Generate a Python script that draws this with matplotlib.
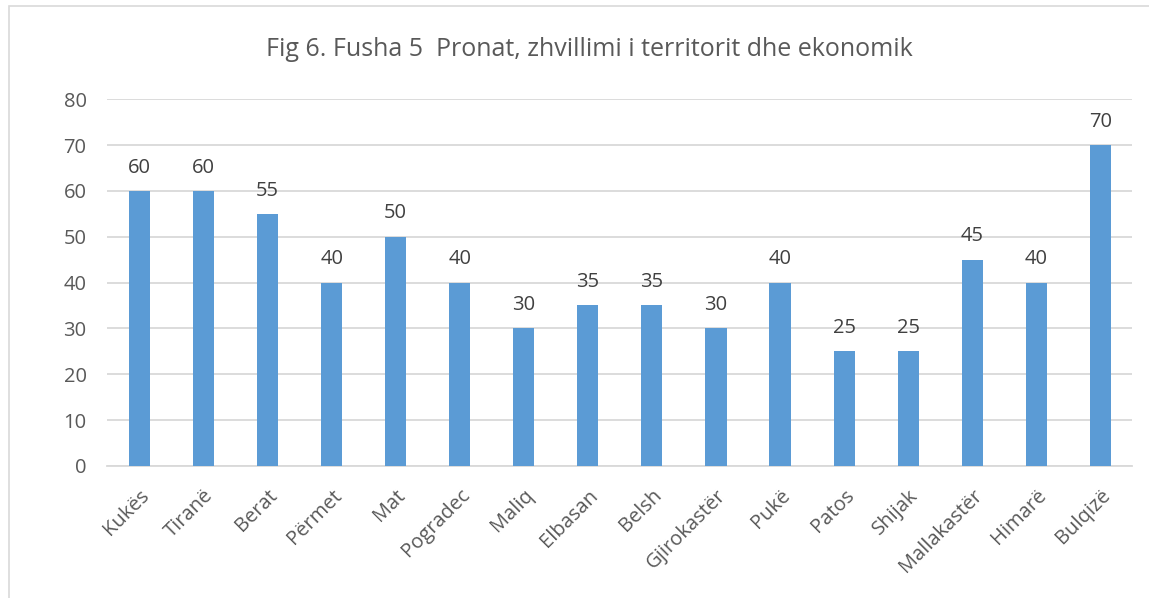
import matplotlib.pyplot as plt
import numpy as np

cities = ["Kukës", "Tiranë", "Berat", "Përmet", "Mat", "Pogradec", "Maliq", "Elbasan",
          "Belsh", "Gjirokastër", "Pukë", "Patos", "Shijak", "Mallakastër", "Himarë", "Bulqizë"]
values = [60, 60, 55, 40, 50, 40, 30, 35, 35, 30, 40, 25, 25, 45, 40, 70]
yticks = [0, 10, 20, 30, 40, 50, 60, 70, 80]

txt = "#595959"
plt.rcParams['font.family'] = ['Open Sans', 'DejaVu Sans']

fig = plt.figure(figsize=(11.49, 5.98), dpi=100)
ax = fig.add_axes([0.0935, 0.221, 0.892, 0.613])

x = np.arange(len(cities))
bars = ax.bar(x, values, width=0.33, color="#5B9BD5", zorder=3)
for xi, v in zip(x, values):
    ax.text(xi, v + 2.9, str(v), ha="center", va="bottom", fontsize=14.5, color="#404040")

ax.set_xlim(-0.5, len(cities) - 0.5)
ax.set_ylim(0, 80)
ax.set_yticks(yticks)
ax.set_yticklabels([str(t) for t in yticks], fontsize=14.5, color=txt)
ax.yaxis.grid(True, color="#D9D9D9", linewidth=1.3, zorder=0)
ax.tick_params(axis="y", length=0, pad=15)
ax.tick_params(axis="x", length=0, pad=14)
ax.set_xticks(x)
ax.set_xticklabels(cities, rotation=45, ha="right", rotation_mode="anchor",
                   fontsize=14.5, color=txt)
for s in ["top", "right", "left"]:
    ax.spines[s].set_visible(False)
ax.spines["bottom"].set_color("#D9D9D9")
ax.spines["bottom"].set_linewidth(1.3)

fig.text(0.513, 0.918, "Fig 6. Fusha 5  Pronat, zhvillimi i territorit dhe ekonomik",
         ha="center", va="center", fontsize=18, color=txt)

# light frame around the chart
fig.patches.append(plt.Rectangle((0.008, -0.01), 0.995, 1.0, transform=fig.transFigure,
                                 fill=False, edgecolor="#D9D9D9", linewidth=1.2))

fig.savefig("out.png", dpi=100)
